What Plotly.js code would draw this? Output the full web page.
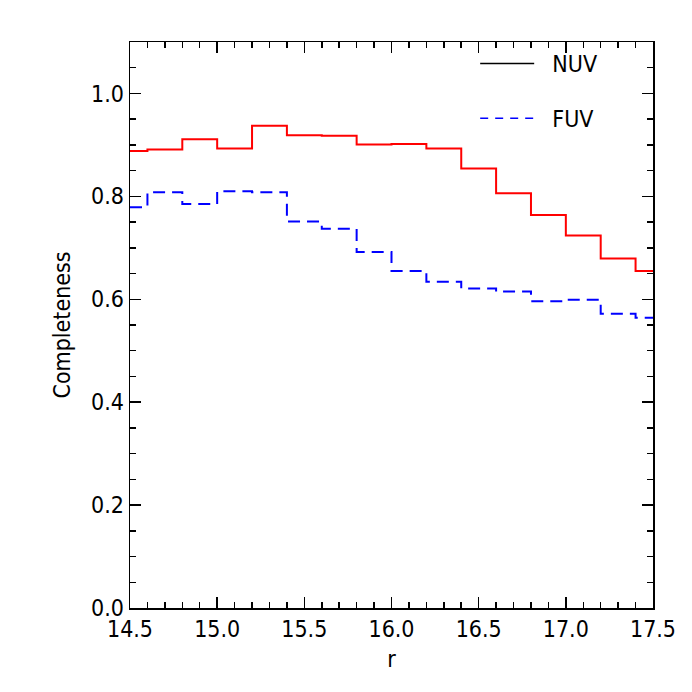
<!DOCTYPE html>
<html>
<head>
<meta charset="utf-8">
<script src="https://cdn.plot.ly/plotly-3.0.1.min.js"></script>
<style>
  html, body { margin: 0; padding: 0; background: #fff; }
  #chart { width: 692px; height: 692px; }
</style>
</head>
<body>
<div id="chart"></div>
<script>
// r magnitude bin centres
const rMag = [14.5, 14.7, 14.9, 15.1, 15.3, 15.5, 15.7, 15.9,
              16.1, 16.3, 16.5, 16.7, 16.9, 17.1, 17.3, 17.5];

// completeness
const nuv = [0.888, 0.891, 0.911, 0.893, 0.937, 0.919, 0.918, 0.901,
             0.902, 0.893, 0.854, 0.806, 0.764, 0.724, 0.679, 0.655];
const fuv = [0.779, 0.808, 0.785, 0.810, 0.808, 0.751, 0.737, 0.692,
             0.655, 0.634, 0.621, 0.615, 0.596, 0.599, 0.572, 0.564];

const legendNames = ["NUV", "FUV"];

const font = { family: "DejaVu Sans Condensed, Liberation Sans, sans-serif", size: 23, color: "#000" };
const pad = "\u00a0\u00a0";

const traces = [
  {
    x: rMag, y: nuv, type: "scatter", mode: "lines",
    line: { shape: "hvh", color: "#ff0000", width: 2 },
    showlegend: false, hoverinfo: "skip",
  },
  {
    x: rMag, y: fuv, type: "scatter", mode: "lines",
    line: { shape: "hvh", color: "#0000ff", width: 2, dash: "12px,7px" },
    showlegend: false, hoverinfo: "skip",
  },
  // legend entries (NUV shown with a black line as in the original)
  {
    x: [null], y: [null], type: "scatter", mode: "lines", name: pad + legendNames[0],
    legendgroup: "a", line: { color: "#000", width: 1.5 },
  },
  {
    x: [null], y: [null], type: "scatter", mode: "lines", name: pad + legendNames[1],
    legendgroup: "b", line: { color: "#0000ff", width: 1.5, dash: "8px,7px" },
  },
];

const axisCommon = {
  showgrid: false, zeroline: false, showline: true,
  linecolor: "#000", linewidth: 1.5, mirror: "allticks",
  ticks: "inside", ticklen: 11, tickwidth: 1.5, tickcolor: "#000",
  tickfont: font,
};

const layout = {
  width: 692, height: 692,
  margin: { l: 130, r: 39, t: 42, b: 84 },
  paper_bgcolor: "#fff", plot_bgcolor: "#fff",
  font: font,
  xaxis: Object.assign({}, axisCommon, {
    range: [14.5, 17.5], dtick: 0.5, tick0: 14.5, tickformat: ".1f",
    minor: { dtick: 0.1, ticks: "inside", ticklen: 6, tickwidth: 1.5, tickcolor: "#000" },
    title: { text: "r", font: font, standoff: 10 },
  }),
  yaxis: Object.assign({}, axisCommon, {
    range: [0, 1.1], dtick: 0.2, tick0: 0, tickformat: ".1f",
    minor: { dtick: 0.05, ticks: "inside", ticklen: 6, tickwidth: 1.5, tickcolor: "#000" },
    title: { text: "Completeness", font: font, standoff: 14 },
  }),
  legend: {
    x: 0.66, y: 1.0, xanchor: "left", yanchor: "top",
    bgcolor: "rgba(0,0,0,0)", font: font,
    tracegroupgap: 22, itemwidth: 54,
  },
};

Plotly.newPlot("chart", traces, layout, { displayModeBar: false, staticPlot: true });
</script>
</body>
</html>
